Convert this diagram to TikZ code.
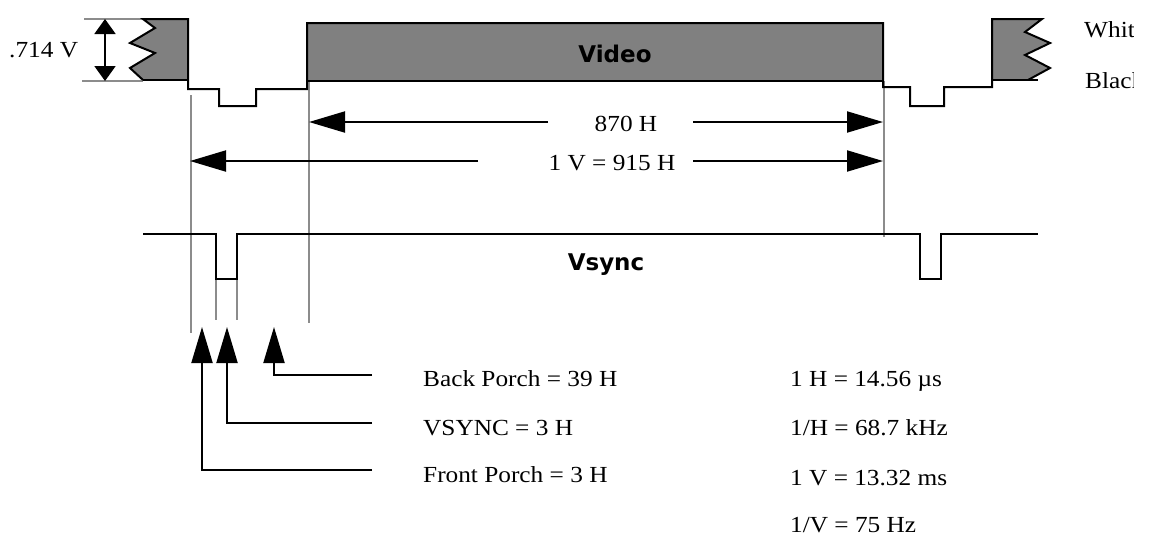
\documentclass[tikz,border=0pt]{standalone}
\usepackage{fontspec}
\setmainfont{Liberation Serif}[FakeStretch=1.1]
\newfontfamily\lblfont{DejaVu Sans}
\usetikzlibrary{arrows.meta}
\definecolor{blockgray}{HTML}{808080}
\definecolor{guidegray}{HTML}{8C8C8C}
\begin{document}
\begin{tikzpicture}[x=1pt,y=-1pt,
  sig/.style={line width=2pt, black, line join=miter},
  guide/.style={line width=2pt, guidegray},
  txt/.style={font=\fontsize{23}{27}\selectfont, inner sep=0pt},
  lbl/.style={font=\lblfont\bfseries\fontsize{23}{27}\selectfont, inner sep=0pt},
  bigarrow/.style={line width=2pt, -{Triangle[length=36pt,width=21pt]}},
  dblarrow/.style={line width=2pt, {Triangle[length=15pt,width=21pt]}-{Triangle[length=15pt,width=21pt]}}]
\fill[white] (0,0) rectangle (1158,544);
\useasboundingbox (0,0) rectangle (1158,544);

% guide coordinates
\coordinate (gFP) at (191,95);   \coordinate (gFPb) at (191,333);
\coordinate (gVSa) at (216,279); \coordinate (gVSab) at (216,320);
\coordinate (gVSb) at (237,279); \coordinate (gVSbb) at (237,320);
\coordinate (gBP) at (309,81);   \coordinate (gBPb) at (309,323);
\coordinate (gEnd) at (884,81);  \coordinate (gEndb) at (884,237);

% fills
\fill[blockgray] (143,19) -- (188,19) -- (188,80) -- (143,80) -- (130,68) -- (155,53) -- (130,43) -- (155,28) -- cycle;
\fill[blockgray] (307,23) rectangle (883,81);
\fill[blockgray] (992,19) -- (1042,19) -- (1025,32) -- (1050,43) -- (1025,55) -- (1050,68) -- (1028,80) -- (992,80) -- cycle;

% guides
\draw[guide] (84,19) -- (143,19);
\draw[guide] (82,81) -- (143,81);
\draw[guide] (gFP) -- (gFPb);
\draw[guide] (gVSa) -- (gVSab);
\draw[guide] (gVSb) -- (gVSbb);
\draw[guide] (gBP) -- (gBPb);
\draw[guide] (gEnd) -- (gEndb);

% video signal
\draw[sig] (143,80) -- (130,68) -- (155,53) -- (130,43) -- (155,28) -- (143,19) -- (188,19) -- (188,89)
  -- (219,89) -- (219,106) -- (256,106) -- (256,89) -- (307,89) -- (307,23) -- (883,23) -- (883,87)
  -- (910,87) -- (910,106) -- (944,106) -- (944,87) -- (992,87) -- (992,19) -- (1042,19)
  -- (1025,32) -- (1050,43) -- (1025,55) -- (1050,68) -- (1028,80);
\draw[sig] (143,80) -- (188,80);
\draw[sig] (307,81) -- (883,81);
\draw[sig] (992,80) -- (1038,80);

% vsync signal
\draw[sig] (143,234) -- (216,234) -- (216,279) -- (237,279) -- (237,234) -- (920,234)
  -- (920,279) -- (941,279) -- (941,234) -- (1038,234);

% amplitude
\coordinate (vtop) at (105,19);
\coordinate (vbot) at (105,81);
\draw[dblarrow] (vtop) -- (vbot);
\node[txt, anchor=base west] (amp) at (9,57) {.714 V};
\begin{scope}
  \clip (1060,0) rectangle (1133,120);
  \node[txt, anchor=base west] (white) at (1084,37) {White};
  \node[txt, anchor=base west] (black) at (1085,88) {Black};
\end{scope}

% labels
\node[lbl, anchor=base] (video) at (615,62) {Video};
\node[lbl, anchor=base] (vsync) at (606,270) {Vsync};

% 870 H
\node[txt, anchor=base] (h870) at (626,131) {870 H};
\coordinate (a870l) at (548,122);
\coordinate (a870r) at (693,122);
\draw[bigarrow] (a870l) -- (a870l -| gBP);
\draw[bigarrow] (a870r) -- (883,122);

% 1 V = 915 H
\node[txt, anchor=base] (v915) at (612,170) {1 V = 915 H};
\coordinate (a915l) at (478,161);
\coordinate (a915r) at (693,161);
\draw[bigarrow] (a915l) -- (190,161);
\draw[bigarrow] (a915r) -- (883,161);

% porch labels
\node[txt, anchor=base west] (bp) at (423,386) {Back Porch = 39 H};
\node[txt, anchor=base west] (vs) at (423,435) {VSYNC = 3 H};
\node[txt, anchor=base west] (fp) at (423,482) {Front Porch = 3 H};
\coordinate (bpL) at (372,375);
\coordinate (vsL) at (372,423);
\coordinate (fpL) at (372,470);
\coordinate (bpT) at (274,327);
\coordinate (vsT) at (227,327);
\coordinate (fpT) at (202,327);
\draw[bigarrow] (bpL) -| (bpT);
\draw[bigarrow] (vsL) -| (vsT);
\draw[bigarrow] (fpL) -| (fpT);

% timing values
\node[txt, anchor=base west] (t1) at (790,386) {1 H = 14.56 µs};
\node[txt, anchor=base west] (t2) at (790,435) {1/H = 68.7 kHz};
\node[txt, anchor=base west] (t3) at (790,485) {1 V = 13.32 ms};
\node[txt, anchor=base west] (t4) at (790,532) {1/V = 75 Hz};
\end{tikzpicture}
\end{document}
